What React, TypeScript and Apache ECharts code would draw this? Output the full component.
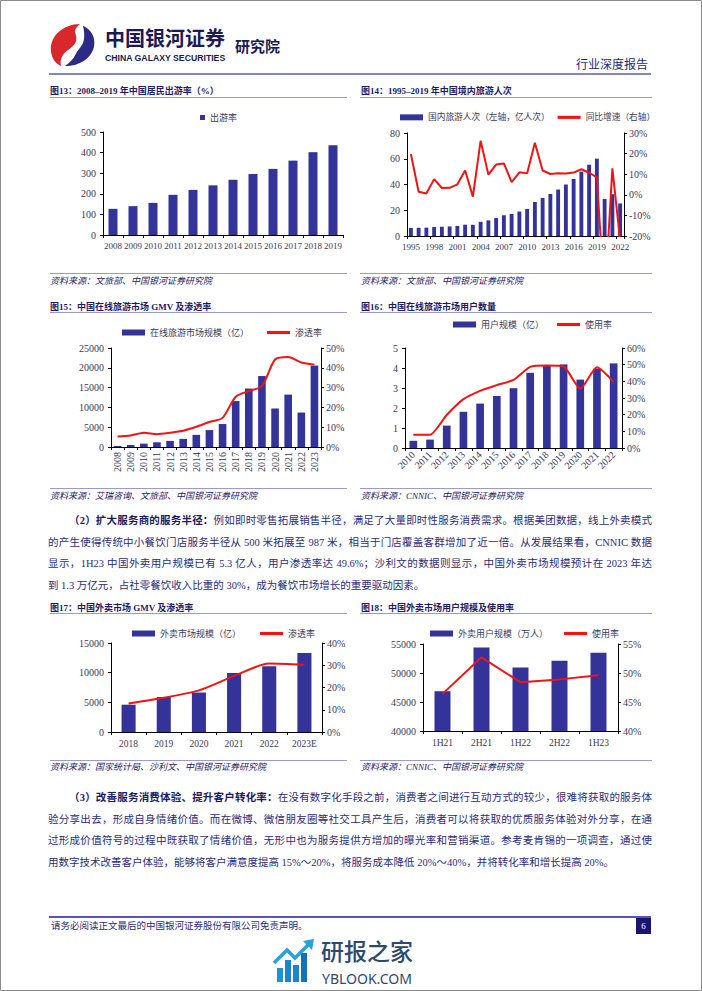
import React, { useEffect, useRef } from "react";
import * as echarts from "echarts";

const SERIF = '"Times New Roman","Liberation Serif","Noto Sans CJK SC",serif';
const CJK = '"Noto Sans CJK SC","Noto Sans",sans-serif';

const BAR = "#333399";
const RED = "#f01414";
const INK = "#1f1a66";
const AXT = "#3a3a5a";
const RULE = "#9a9ad0";

// ---------- data ----------
const f13Years = ["2008", "2009", "2010", "2011", "2012", "2013", "2014", "2015", "2016", "2017", "2018", "2019"];
const f13Rate = [127, 140, 156, 195, 219, 241, 268, 296, 321, 361, 402, 436];

const f14Years = ["1995", "1996", "1997", "1998", "1999", "2000", "2001", "2002", "2003", "2004", "2005", "2006", "2007", "2008", "2009", "2010", "2011", "2012", "2013", "2014", "2015", "2016", "2017", "2018", "2019", "2020", "2021", "2022"];
const f14Trips = [6.29, 6.39, 6.44, 6.95, 7.19, 7.44, 7.84, 8.78, 8.7, 11.02, 12.12, 13.94, 16.1, 17.12, 19.02, 21.03, 26.41, 29.57, 32.62, 36.11, 40.0, 44.35, 50.01, 55.39, 60.06, 28.79, 32.46, 25.3];
const f14Growth = [19.8, 1.5, 0.6, 7.6, 3.3, 3.4, 5.1, 11.8, -0.9, 26.2, 9.8, 14.7, 15.2, 6.2, 10.9, 10.4, 25.3, 11.8, 10.1, 10.5, 10.3, 10.8, 12.4, 10.7, 8.5, -52.1, 12.8, -22.1];

const f15Years = ["2008", "2009", "2010", "2011", "2012", "2013", "2014", "2015", "2016", "2017", "2018", "2019", "2020", "2021", "2022", "2023"];
const f15GMV = [260, 510, 850, 1190, 1540, 2050, 3070, 4270, 5800, 11600, 14760, 17920, 9730, 13230, 8700, 20560];
const f15Pen = [5.3, 5.8, 7.2, 6.5, 7.2, 8.2, 10.2, 12.6, 14.7, 25.4, 28.3, 30.7, 44.2, 45.4, 42.7, 41.6];

const f16Years = ["2010", "2011", "2012", "2013", "2014", "2015", "2016", "2017", "2018", "2019", "2020", "2021", "2022"];
const f16Users = [0.36, 0.42, 1.12, 1.81, 2.22, 2.6, 2.99, 3.76, 4.15, 4.18, 3.42, 3.97, 4.23];
const f16Rate = [8.0, 8.0, 19.8, 29.3, 34.3, 37.7, 40.9, 48.7, 49.5, 48.9, 35.6, 48.4, 39.6];

const f17Years = ["2018", "2019", "2020", "2021", "2022", "2023E"];
const f17GMV = [4600, 5900, 6650, 9950, 11100, 13300];
const f17Pen = [12.8, 15.4, 18.7, 25.2, 30.8, 30.2];

const f18Periods = ["1H21", "2H21", "1H22", "2H22", "1H23"];
const f18Users = [46859, 54416, 50957, 52116, 53488];
const f18Rate = [46.4, 52.7, 48.4, 48.9, 49.6];

const P2_LEAD = "（2）扩大服务商的服务半径：";
const P2_LINES = [
  "例如即时零售拓展销售半径，满足了大量即时性服务消费需求。根据美团数据，线上外卖模式",
  "的产生使得传统中小餐饮门店服务半径从 500 米拓展至 987 米，相当于门店覆盖客群增加了近一倍。从发展结果看，CNNIC 数据",
  "显示，1H23 中国外卖用户规模已有 5.3 亿人，用户渗透率达 49.6%；沙利文的数据则显示，中国外卖市场规模预计在 2023 年达",
  "到 1.3 万亿元，占社零餐饮收入比重的 30%，成为餐饮市场增长的重要驱动因素。",
];
const P3_LEAD = "（3）改善服务消费体验、提升客户转化率：";
const P3_LINES = [
  "在没有数字化手段之前，消费者之间进行互动方式的较少，很难将获取的服务体",
  "验分享出去，形成自身情绪价值。而在微博、微信朋友圈等社交工具产生后，消费者可以将获取的优质服务体验对外分享，在通",
  "过形成价值符号的过程中既获取了情绪价值，无形中也为服务提供方增加的曝光率和营销渠道。参考麦肯锡的一项调查，通过使",
  "用数字技术改善客户体验，能够将客户满意度提高 15%～20%，将服务成本降低 20%～40%，并将转化率和增长提高 20%。",
];

// ---------- shapes ----------
echarts.graphic.registerShape(
  "logoRed",
  echarts.graphic.extendPath(
    "M66,2 C30,2 2,30 4,62 C5,80 14,93 26,98 C22,84 28,70 42,60 C56,50 62,40 56,24 C54,16 58,8 66,2 Z",
    {}
  )
);
echarts.graphic.registerShape(
  "logoBlue",
  echarts.graphic.extendPath(
    "M72,6 C90,14 99,32 96,52 C92,78 66,98 34,98 C44,90 52,82 56,72 C60,62 68,56 72,46 C76,36 76,20 72,6 Z",
    {}
  )
);

// ---------- helpers ----------
const txt = (x: number, y: number, text: string, font: string, fill: string, align = "left") => ({
  type: "text",
  x,
  y,
  silent: true,
  style: { text, font, fill, align, verticalAlign: "middle", textAlign: align, textVerticalAlign: "middle" },
});
const hline = (x1: number, x2: number, y: number, stroke: string, lineWidth: number) => ({
  type: "line",
  silent: true,
  shape: { x1, y1: y, x2, y2: y },
  style: { stroke, lineWidth },
});

const xCat = (gi: number, data: string[], extra: any = {}) => ({
  type: "category",
  gridIndex: gi,
  data,
  boundaryGap: true,
  axisLine: { show: true, onZero: false, lineStyle: { color: "#000", width: 1 } },
  axisTick: { show: true, length: 3, lineStyle: { color: "#000" } },
  axisLabel: { color: AXT, fontFamily: SERIF, fontSize: 9.5, margin: 6, interval: 0, ...extra },
  splitLine: { show: false },
});
const yVal = (gi: number, min: number, max: number, interval: number, position: string, pct = false) => ({
  type: "value",
  gridIndex: gi,
  min,
  max,
  interval,
  position,
  axisLine: { show: true, onZero: false, lineStyle: { color: "#000", width: 1 } },
  axisTick: { show: true, length: 3, lineStyle: { color: "#000" } },
  splitLine: { show: false },
  axisLabel: {
    color: AXT,
    fontFamily: SERIF,
    fontSize: 10,
    margin: position === "left" ? 7 : 5,
    formatter: (v: number) => (pct ? `${v}%` : `${v}`),
  },
});
const LINE_ICON = "path://M0,0H22V3H0Z";
const legend = (left: number, top: number, barName: string, lineName: string | null, gap: number, fs = 9) => ({
  left,
  top,
  selectedMode: false,
  itemWidth: 23,
  itemHeight: 6,
  itemGap: gap,
  textStyle: { fontFamily: SERIF, fontSize: fs, color: AXT },
  data: lineName
    ? [{ name: barName, icon: "rect" }, { name: lineName, icon: LINE_ICON }]
    : [{ name: barName, icon: "rect" }],
});
const bar = (name: string, xi: number, yi: number, data: number[], barWidth: any) => ({
  name,
  type: "bar",
  xAxisIndex: xi,
  yAxisIndex: yi,
  data,
  barWidth,
  itemStyle: { color: BAR },
});
const line = (name: string, xi: number, yi: number, data: number[], smooth: any) => ({
  name,
  type: "line",
  xAxisIndex: xi,
  yAxisIndex: yi,
  data,
  smooth,
  symbol: "none",
  clip: true,
  lineStyle: { color: RED, width: 2 },
  itemStyle: { color: RED },
});

const TITLE_FONT = `bold 9px ${SERIF}`;
const SRC_FONT = `italic 9px ${SERIF}`;

function buildOption(): any {
  const graphic: any[] = [
    // page border
    { type: "rect", silent: true, shape: { x: 0.5, y: 0.5, width: 701, height: 990 }, style: { fill: "none", stroke: "#8c8c8c", lineWidth: 1 } },
    // header
    { type: "logoRed", x: 49, y: 23, scaleX: 0.47, scaleY: 0.44, silent: true, style: { fill: "#d8282c" } },
    { type: "logoBlue", x: 49, y: 23, scaleX: 0.47, scaleY: 0.44, silent: true, style: { fill: "#2b2a86" } },
    txt(105, 37, "中国银河证券", `bold 20px ${CJK}`, "#1c1a55"),
    txt(105, 57.5, "CHINA GALAXY SECURITIES", 'bold 8.7px "Liberation Sans",Arial,sans-serif', "#1c1a55"),
    txt(235, 45, "研究院", `bold 15px ${CJK}`, "#1c1a55"),
    txt(648, 63, "行业深度报告", `12px ${CJK}`, "#22287a", "right"),
    hline(49, 651, 74, "#8585c5", 2),
    // titles
    txt(50, 91, "图13：2008–2019 年中国居民出游率（%）", TITLE_FONT, INK),
    txt(361, 91, "图14：1995–2019 年中国境内旅游人次", TITLE_FONT, INK),
    hline(50, 347, 97.5, RULE, 1),
    hline(360, 652, 97.5, RULE, 1),
    hline(50, 347, 273.5, RULE, 1),
    hline(360, 652, 273.5, RULE, 1),
    txt(50, 281, "资料来源：文旅部、中国银河证券研究院", SRC_FONT, INK),
    txt(361, 281, "资料来源：文旅部、中国银河证券研究院", SRC_FONT, INK),

    txt(50, 307, "图15：中国在线旅游市场 GMV 及渗透率", TITLE_FONT, INK),
    txt(361, 307, "图16：中国在线旅游市场用户数量", TITLE_FONT, INK),
    hline(50, 347, 312.5, RULE, 1),
    hline(360, 652, 312.5, RULE, 1),
    hline(50, 347, 488.5, RULE, 1),
    hline(360, 652, 488.5, RULE, 1),
    txt(50, 496, "资料来源：艾瑞咨询、文旅部、中国银河证券研究院", SRC_FONT, INK),
    txt(361, 496, "资料来源：CNNIC、中国银河证券研究院", SRC_FONT, INK),

    txt(50, 608, "图17：中国外卖市场 GMV 及渗透率", TITLE_FONT, INK),
    txt(361, 608, "图18：中国外卖市场用户规模及使用率", TITLE_FONT, INK),
    hline(50, 347, 613.5, RULE, 1),
    hline(360, 652, 613.5, RULE, 1),
    hline(50, 347, 760.5, RULE, 1),
    hline(360, 652, 760.5, RULE, 1),
    txt(50, 767, "资料来源：国家统计局、沙利文、中国银河证券研究院", SRC_FONT, INK),
    txt(361, 767, "资料来源：CNNIC、中国银河证券研究院", SRC_FONT, INK),

    // footer
    hline(49, 651, 917, "#5b52c0", 2),
    txt(51, 926, "请务必阅读正文最后的中国银河证券股份有限公司免责声明。", `9.5px ${SERIF}`, "#2a2a7a"),
    { type: "rect", silent: true, shape: { x: 636, y: 918, width: 15, height: 16 }, style: { fill: "#1c1370" } },
    txt(643.5, 926, "6", `9px ${SERIF}`, "#ffffff", "center"),

    // watermark
    { type: "rect", silent: true, shape: { x: 277, y: 968, width: 6, height: 14 }, style: { fill: "#1e90d8" } },
    { type: "rect", silent: true, shape: { x: 285, y: 960, width: 6, height: 22 }, style: { fill: "#1a84cc" } },
    { type: "rect", silent: true, shape: { x: 293, y: 965, width: 6, height: 17 }, style: { fill: "#1a84cc" } },
    { type: "rect", silent: true, shape: { x: 301, y: 953, width: 6, height: 29 }, style: { fill: "#1670b8" } },
    { type: "polyline", silent: true, shape: { points: [[274, 963], [287, 950], [295, 958], [309, 944]] }, style: { stroke: "#29a0e0", lineWidth: 3.5, fill: "none" } },
    { type: "polygon", silent: true, shape: { points: [[314, 939], [303, 941], [312, 950]] }, style: { fill: "#29a0e0" } },
    txt(321, 950, "研报之家", `500 23px ${CJK}`, "#2c4a6e"),
    txt(322, 978.5, "YBLOOK.COM", '14px "Noto Sans","Open Sans",sans-serif', "#2c4a6e"),
  ];

  return {
    animation: false,
    backgroundColor: "#ffffff",
    grid: [
      { left: 103, top: 132, width: 240, height: 103 },
      { left: 407, top: 133, width: 217, height: 103 },
      { left: 111, top: 348, width: 210, height: 99 },
      { left: 405, top: 348, width: 217, height: 100 },
      { left: 111, top: 643, width: 211, height: 89 },
      { left: 423, top: 644, width: 195, height: 87 },
    ],
    xAxis: [
      xCat(0, f13Years, { fontSize: 9, margin: 6 }),
      xCat(1, f14Years, { fontSize: 9, margin: 6, interval: 2 }),
      xCat(2, f15Years, { fontSize: 10, margin: 5, rotate: 90 }),
      xCat(3, f16Years, { fontSize: 10, margin: 5, rotate: 45 }),
      xCat(4, f17Years, { fontSize: 9.5, margin: 7 }),
      xCat(5, f18Periods, { fontSize: 9.5, margin: 7 }),
    ],
    yAxis: [
      yVal(0, 0, 500, 100, "left"),
      yVal(1, 0, 80, 20, "left"),
      yVal(1, -20, 30, 10, "right", true),
      yVal(2, 0, 25000, 5000, "left"),
      yVal(2, 0, 50, 10, "right", true),
      yVal(3, 0, 5, 1, "left"),
      yVal(3, 0, 60, 10, "right", true),
      yVal(4, 0, 15000, 5000, "left"),
      yVal(4, 0, 40, 10, "right", true),
      yVal(5, 40000, 55000, 5000, "left"),
      yVal(5, 40, 55, 5, "right", true),
    ],
    legend: [
      { ...legend(195, 108, "出游率", null, 10), itemWidth: 5, itemHeight: 5 },
      legend(395, 108, "国内旅游人次（左轴，亿人次）", "同比增速（右轴）", 8, 8.7),
      legend(117, 323, "在线旅游市场规模（亿）", "渗透率", 18),
      legend(448, 315, "用户规模（亿）", "使用率", 13),
      legend(127, 624, "外卖市场规模（亿）", "渗透率", 19),
      legend(425, 624, "外卖用户规模（万人）", "使用率", 16),
    ],
    series: [
      bar("出游率", 0, 0, f13Rate, 9),
      bar("国内旅游人次（左轴，亿人次）", 1, 1, f14Trips, "50%"),
      line("同比增速（右轴）", 1, 2, f14Growth, false),
      bar("在线旅游市场规模（亿）", 2, 3, f15GMV, "58%"),
      line("渗透率", 2, 4, f15Pen, 0.25),
      bar("用户规模（亿）", 3, 5, f16Users, "46%"),
      line("使用率", 3, 6, f16Rate, 0.2),
      bar("外卖市场规模（亿）", 4, 7, f17GMV, "40%"),
      line("渗透率", 4, 8, f17Pen, 0.25),
      bar("外卖用户规模（万人）", 5, 9, f18Users, "41%"),
      line("使用率", 5, 10, f18Rate, false),
    ],
    graphic,
  };
}

const Para = ({ top, lead, lines }: { top: number; lead: string; lines: string[] }) => (
  <div
    style={{
      position: "absolute",
      left: 48,
      top,
      width: 604,
      fontFamily: SERIF,
      fontSize: 10.5,
      color: "#2b2b7d",
      lineHeight: "21.5px",
    }}
  >
    {lines.map((l, i) => (
      <div
        key={i}
        style={{
          height: 21.5,
          textAlign: "justify",
          textAlignLast: i < lines.length - 1 ? "justify" : "left",
          textIndent: i === 0 ? 21 : 0,
        } as any}
      >
        {i === 0 && <b style={{ color: "#1a1a66" }}>{lead}</b>}
        {l}
      </div>
    ))}
  </div>
);

export default function App() {
  const ref = useRef<HTMLDivElement>(null);
  useEffect(() => {
    if (!ref.current) return;
    const chart = echarts.init(ref.current, null, { renderer: "svg" });
    chart.setOption(buildOption());
    return () => chart.dispose();
  }, []);
  return (
    <div style={{ position: "absolute", left: 0, top: 0, width: 702, height: 991, background: "#fff", overflow: "hidden" }}>
      <div ref={ref} style={{ position: "absolute", left: 0, top: 0, width: 702, height: 991 }} />
      <Para top={510} lead={P2_LEAD} lines={P2_LINES} />
      <Para top={787} lead={P3_LEAD} lines={P3_LINES} />
    </div>
  );
}
